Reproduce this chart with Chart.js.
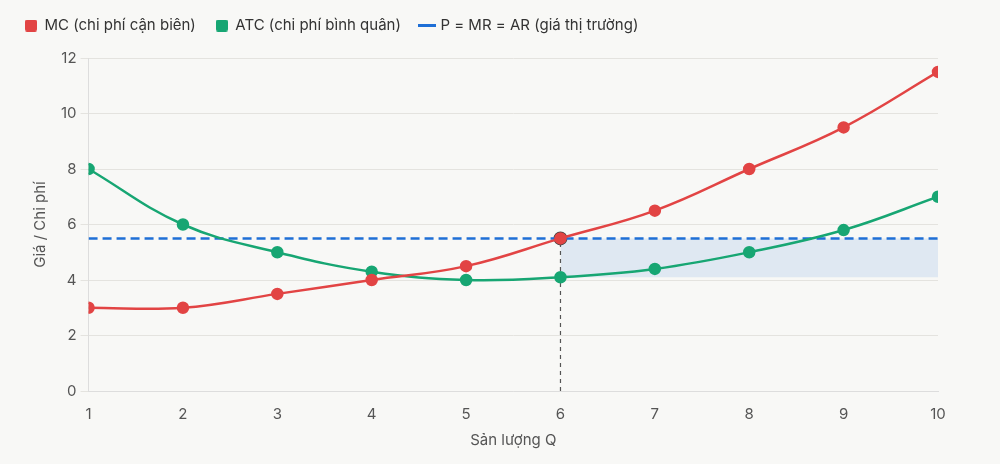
<!DOCTYPE html>
<html>
<head>
<meta charset="utf-8">
<script src="https://cdn.jsdelivr.net/npm/chart.js@4"></script>
<style>
  html, body { margin: 0; padding: 0; background: #f8f8f6; }
  #wrap { width: 1000px; height: 464px; }
</style>
</head>
<body>
<div id="wrap"><canvas id="chart"></canvas></div>
<script>
const quantity = [1, 2, 3, 4, 5, 6, 7, 8, 9, 10]
const mcValues = [3, 3, 3.5, 4, 4.5, 5.5, 6.5, 8, 9.5, 11.5]
const atcValues = [8, 6, 5, 4.3, 4, 4.1, 4.4, 5, 5.8, 7]
const price = 5.5
const qStar = 6
const atcAtQStar = 4.1
const yTicks = [0, 2, 4, 6, 8, 10, 12]

const red = '#e24444'
const green = '#17a673'
const blue = '#1f6fd6'

function toPoints(values) {
    return quantity.map((q, i) => ({ x: q, y: values[i] }))
}

// small canvases used as legend icons
function squareIcon(color) {
    const c = document.createElement('canvas')
    c.width = 12; c.height = 12
    const ctx = c.getContext('2d')
    ctx.fillStyle = color
    ctx.beginPath()
    ctx.roundRect(0, 0, 12, 12, 2)
    ctx.fill()
    return c
}
function lineIcon(color) {
    const c = document.createElement('canvas')
    c.width = 18; c.height = 3
    const ctx = c.getContext('2d')
    ctx.fillStyle = color
    ctx.fillRect(0, 0, 18, 3)
    return c
}

const profitQ = quantity.filter(q => q >= qStar)

Chart.defaults.font.family = 'Inter, "Liberation Sans", sans-serif'
Chart.defaults.color = '#555'

// legend block a bit taller, then nudged up and to the left edge
const legendSpace = {
    id: 'legendSpace',
    beforeInit(chart) {
        const fit = chart.legend.fit
        chart.legend.fit = function () {
            fit.bind(chart.legend)()
            this.height += 7
        }
    },
    afterLayout(chart) {
        chart.legend.left = 5
        chart.legend.top -= 8
    }
}

new Chart(document.getElementById('chart'), {
    type: 'line',
    data: {
        datasets: [
            {
                label: 'MC (chi phí cận biên)',
                data: toPoints(mcValues),
                borderColor: red,
                backgroundColor: red,
                borderWidth: 2.5,
                pointRadius: 5,
                tension: 0.4
            },
            {
                label: 'ATC (chi phí bình quân)',
                data: toPoints(atcValues),
                borderColor: green,
                backgroundColor: green,
                borderWidth: 2.5,
                pointRadius: 5,
                tension: 0.4
            },
            {
                label: 'P = MR = AR (giá thị trường)',
                data: quantity.map(q => ({ x: q, y: price })),
                borderColor: blue,
                backgroundColor: blue,
                borderWidth: 2.5,
                borderDash: [9, 5],
                pointRadius: 0
            },
            {
                label: 'eq',
                data: [{ x: qStar, y: price }],
                borderColor: '#444',
                backgroundColor: 'rgba(80,60,60,0.35)',
                borderWidth: 2,
                pointRadius: 6,
                showLine: false
            },
            {
                label: 'qline',
                data: [{ x: qStar, y: 0 }, { x: qStar, y: price }],
                borderColor: '#555',
                borderWidth: 1.2,
                borderDash: [4, 4],
                pointRadius: 0
            },
            {
                label: 'shadeTop',
                data: profitQ.map(q => ({ x: q, y: price })),
                borderColor: 'transparent',
                borderWidth: 0,
                backgroundColor: 'rgba(31,111,214,0.11)',
                pointRadius: 0,
                fill: '+1'
            },
            {
                label: 'shadeBottom',
                data: profitQ.map(q => ({ x: q, y: atcAtQStar })),
                borderColor: 'transparent',
                borderWidth: 0,
                pointRadius: 0,
                fill: false
            }
        ]
    },
    options: {
        responsive: true,
        maintainAspectRatio: false,
        animation: false,
        layout: {
            padding: { left: 27, right: 62, top: 6, bottom: 11 }
        },
        plugins: {
            legend: {
                align: 'start',
                labels: {
                    font: { size: 15 },
                    color: '#333',
                    usePointStyle: true,
                    boxWidth: 12,
                    boxHeight: 12,
                    padding: 20,
                    generateLabels: (chart) => {
                        const icons = [squareIcon(red), squareIcon(green), lineIcon(blue)]
                        const items = Chart.defaults.plugins.legend.labels.generateLabels(chart)
                        return items.filter(it => it.datasetIndex < 3).map(it => {
                            it.pointStyle = icons[it.datasetIndex]
                            return it
                        })
                    }
                }
            },
            tooltip: { enabled: false }
        },
        scales: {
            x: {
                type: 'linear',
                min: 1,
                max: 10,
                ticks: { stepSize: 1, font: { size: 15 }, padding: 6 },
                grid: { display: false },
                border: { color: '#ddd' },
                title: { display: true, text: 'Sản lượng Q', font: { size: 15 }, padding: { top: 2 } }
            },
            y: {
                min: 0,
                max: 12,
                afterBuildTicks: (axis) => { axis.ticks = yTicks.map(v => ({ value: v })) },
                ticks: { font: { size: 15 }, padding: 4 },
                grid: { color: '#e4e3df', tickLength: 8 },
                border: { color: '#ddd' },
                title: { display: true, text: 'Giá / Chi phí', font: { size: 15 }, padding: { bottom: 8 } }
            }
        }
    },
    plugins: [legendSpace]
})
</script>
</body>
</html>
